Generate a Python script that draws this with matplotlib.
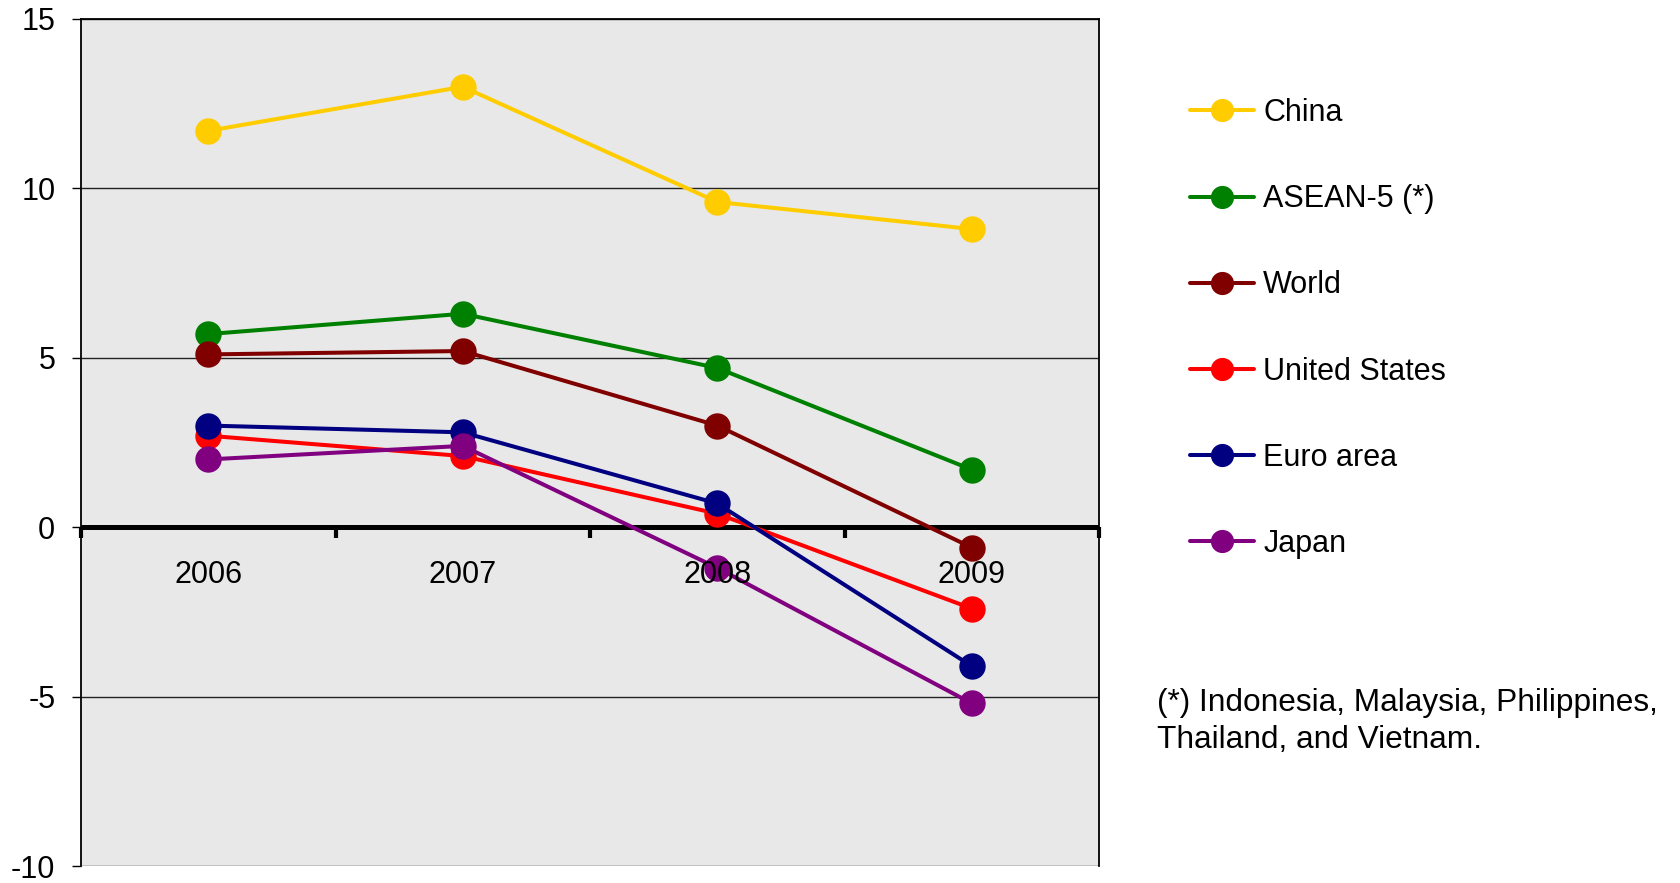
import matplotlib
matplotlib.use("Agg")
import matplotlib.pyplot as plt
from matplotlib.ticker import FixedLocator

plt.rcParams['font.family'] = ['Liberation Sans', 'DejaVu Sans']

years = ['2006', '2007', '2008', '2009']
series_names = ['China', 'ASEAN-5 (*)', 'World', 'United States', 'Euro area', 'Japan']
china = [11.7, 13.0, 9.6, 8.8]
asean5 = [5.7, 6.3, 4.7, 1.7]
world = [5.1, 5.2, 3.0, -0.6]
united_states = [2.7, 2.1, 0.4, -2.4]
euro_area = [3.0, 2.8, 0.7, -4.1]
japan = [2.0, 2.4, -1.2, -5.2]
colors = ['#FFCC00', '#008000', '#800000', '#FF0000', '#000080', '#800080']
yticks = [-10, -5, 0, 5, 10, 15]
footnote = "(*) Indonesia, Malaysia, Philippines,\nThailand, and Vietnam."

values = [china, asean5, world, united_states, euro_area, japan]

fig = plt.figure(figsize=(16.8, 8.83), dpi=100)
ax_top, ax_bot = 19, 866
ax = fig.add_axes([81/1680, 1 - ax_bot/883, (1099-81)/1680, (ax_bot-ax_top)/883])
ax.set_facecolor('#E8E8E8')

x = list(range(len(years)))
for name, vals, c in zip(series_names, values, colors):
    ax.plot(x, vals, color=c, lw=2.9, marker='o', markersize=18, label=name,
            solid_capstyle='round', zorder=3)

ax.set_xlim(-0.5, len(years) - 0.5)
ax.set_ylim(min(yticks), max(yticks))

# horizontal grid lines (behind data)
for yt in yticks:
    if yt == 0:
        ax.axhline(yt, color='black', lw=3.6, zorder=2)
    else:
        ax.axhline(yt, color='#222222', lw=1.0, zorder=1)

# x axis on zero line
ax.spines['bottom'].set_position(('data', 0))
ax.spines['bottom'].set_visible(False)
for s in ['left', 'top', 'right']:
    ax.spines[s].set_linewidth(1.3)
    ax.spines[s].set_color('black')

ax.xaxis.set_major_locator(FixedLocator([i - 0.5 for i in range(len(years) + 1)]))
ax.xaxis.set_major_formatter(plt.NullFormatter())
ax.set_xticks(x, minor=True)
ax.set_xticklabels(years, minor=True)
ax.tick_params(axis='x', which='major', direction='out', length=8, width=3, color='black')
ax.tick_params(axis='x', which='minor', length=0, pad=23.5, labelsize=22)
ax.xaxis.set_zorder(5)

ax.set_yticks(yticks)
ax.set_yticklabels([str(v) for v in yticks])
ax.tick_params(axis='y', direction='out', length=6.5, width=1, pad=12, labelsize=22)

leg = fig.legend(loc='upper left', bbox_to_anchor=(1190/1680, 1 - 98/883),
                 frameon=False, fontsize=22, handlelength=2.1, handletextpad=0.3,
                 labelspacing=1.84, borderpad=0, borderaxespad=0, markerscale=0.87)

fig.text(1157/1680, 1 - 688/883, footnote, fontsize=22.8, va='top', ha='left',
         linespacing=1.32)

fig.savefig('out.png', dpi=100)
